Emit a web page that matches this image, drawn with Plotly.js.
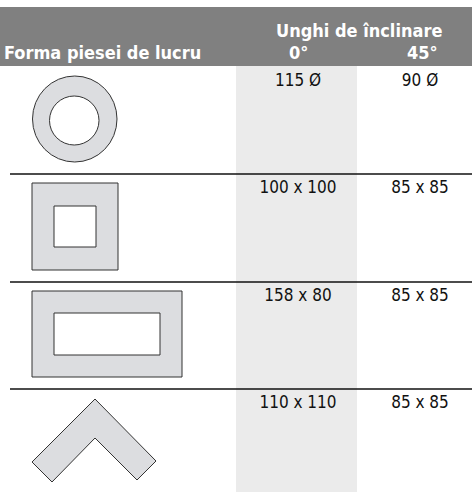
<!DOCTYPE html>
<html><head><meta charset="utf-8">
<script src="https://cdn.plot.ly/plotly-3.0.1.min.js"></script>
<style>html,body{margin:0;padding:0;background:#fff;}#chart{width:472px;height:493px;}</style>
</head><body><div id="chart"></div>
<script>
// Data
var groupHeader = "Unghi de înclinare";
var rowHeader = "Forma piesei de lucru";
var angleLabels = ["0°", "45°"];
var shapeNames = ["inel", "pătrat", "dreptunghi", "unghi"];
var values0 = ["115 Ø", "100 x 100", "158 x 80", "110 x 110"];
var values45 = ["90 Ø", "85 x 85", "85 x 85", "85 x 85"];

// Layout geometry (pixels)
var colX = [298, 420];
var rowY = [82, 189, 297, 404];
var sepY = [174, 282, 389];
var FONT = "'Liberation Sans Narrow', 'DejaVu Sans Condensed', 'Roboto', sans-serif";
var shapeFill = "#dcdde0", shapeLine = "#333333";

var shapes = [];
shapes.push({type:'rect', xref:'x', yref:'y', x0:0, x1:472, y0:7, y1:66, fillcolor:'#808080', line:{width:0}, layer:'below'});
shapes.push({type:'rect', xref:'x', yref:'y', x0:236, x1:357, y0:66, y1:492, fillcolor:'#ebebeb', line:{width:0}, layer:'below'});
sepY.forEach(function(y){
  shapes.push({type:'line', xref:'x', yref:'y', x0:10, x1:472, y0:y, y1:y, line:{color:'#111', width:1.5}});
});
// ring
shapes.push({type:'circle', xref:'x', yref:'y', x0:32.5, x1:117, y0:76, y1:162, fillcolor:shapeFill, line:{color:shapeLine, width:1}});
shapes.push({type:'circle', xref:'x', yref:'y', x0:49.5, x1:99, y0:96, y1:145, fillcolor:'#ffffff', line:{color:shapeLine, width:1}});
// square
shapes.push({type:'rect', xref:'x', yref:'y', x0:32, x1:118, y0:183, y1:270, fillcolor:shapeFill, line:{color:shapeLine, width:1}});
shapes.push({type:'rect', xref:'x', yref:'y', x0:54, x1:96, y0:206, y1:247, fillcolor:'#ffffff', line:{color:shapeLine, width:1}});
// rectangle
shapes.push({type:'rect', xref:'x', yref:'y', x0:32, x1:182, y0:291, y1:377, fillcolor:shapeFill, line:{color:shapeLine, width:1}});
shapes.push({type:'rect', xref:'x', yref:'y', x0:54, x1:160, y0:313, y1:355, fillcolor:'#ffffff', line:{color:shapeLine, width:1}});
// chevron
shapes.push({type:'path', xref:'x', yref:'y', path:'M 95 399 L 156 461 L 137 480 L 95 438 L 52 482 L 32 462 Z', fillcolor:shapeFill, line:{color:shapeLine, width:1}});

var traces = [
  {type:'scatter', mode:'text', x:rowY.map(function(){return colX[0];}), y:rowY, text:values0,
   textposition:'middle center', textfont:{family:FONT, size:17, color:'#111'}, hoverinfo:'none', showlegend:false},
  {type:'scatter', mode:'text', x:rowY.map(function(){return colX[1];}), y:rowY, text:values45,
   textposition:'middle center', textfont:{family:FONT, size:17, color:'#111'}, hoverinfo:'none', showlegend:false}
];

var annotations = [
  {xref:'x', yref:'y', x:359, y:30, text:'<b>'+groupHeader+'</b>', showarrow:false, xanchor:'center', yanchor:'middle', font:{family:FONT, size:18, color:'#fff'}},
  {xref:'x', yref:'y', x:2, y:52, text:'<b>'+rowHeader+'</b>', showarrow:false, xanchor:'left', yanchor:'middle', font:{family:FONT, size:18, color:'#fff'}},
  {xref:'x', yref:'y', x:298, y:52, text:'<b>'+angleLabels[0]+'</b>', showarrow:false, xanchor:'center', yanchor:'middle', font:{family:FONT, size:18, color:'#fff'}},
  {xref:'x', yref:'y', x:422, y:52, text:'<b>'+angleLabels[1]+'</b>', showarrow:false, xanchor:'center', yanchor:'middle', font:{family:FONT, size:18, color:'#fff'}}
];

var layout = {
  width:472, height:493, margin:{l:0,r:0,t:0,b:0}, paper_bgcolor:'#fff', plot_bgcolor:'#fff',
  xaxis:{range:[0,472], visible:false, fixedrange:true},
  yaxis:{range:[493,0], visible:false, fixedrange:true},
  shapes:shapes, annotations:annotations, showlegend:false
};
Plotly.newPlot('chart', traces, layout, {staticPlot:true, displayModeBar:false});
</script></body></html>
